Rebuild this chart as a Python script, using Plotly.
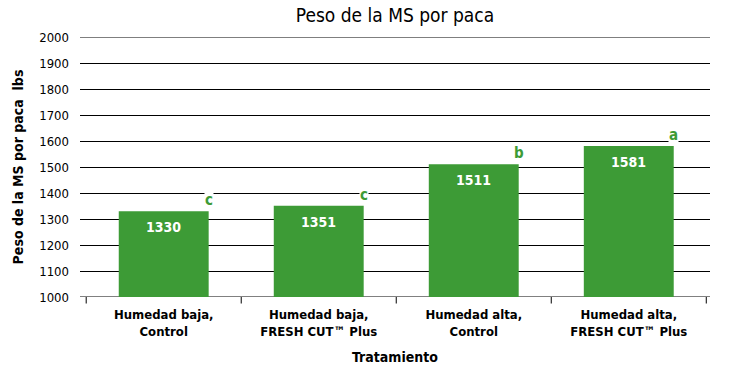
import plotly.graph_objects as go

categories = ["Humedad baja,<br>Control", "Humedad baja,<br>FRESH CUT™ Plus",
              "Humedad alta,<br>Control", "Humedad alta,<br>FRESH CUT™ Plus"]
values = [1330, 1351, 1511, 1581]
letters = ["c", "c", "b", "a"]

FONT = "Liberation Sans Narrow, DejaVu Sans Condensed, Arial Narrow, sans-serif"
GREEN = "#3d9b36"

fig = go.Figure()
fig.add_trace(go.Bar(x=list(range(len(categories))), y=values, marker_color=GREEN,
                     marker_line_width=0, width=0.58, showlegend=False, hoverinfo="skip"))

for i, (v, l) in enumerate(zip(values, letters)):
    fig.add_annotation(x=i, y=v, text=f"<b>{v}</b>", showarrow=False, yanchor="middle",
                       yshift=-16, font=dict(color="white", size=14, family=FONT))
    fig.add_annotation(x=i + 0.29, y=v, text=f"<b>{l}</b>", showarrow=False, yanchor="bottom",
                       xanchor="center", yshift=1, bgcolor="white", borderpad=0,
                       font=dict(color=GREEN, size=15, family=FONT))

# category boundary ticks
for b in [-0.5, 0.5, 1.5, 2.5, 3.5]:
    fig.add_shape(type="line", xref="x", yref="paper", x0=b, x1=b, y0=0, y1=-0.025,
                  line=dict(color="black", width=1))
# edge gridlines (top and bottom of range)
for yv in [1000, 2000]:
    fig.add_shape(type="line", xref="paper", yref="y", x0=0, x1=1, y0=yv, y1=yv,
                  line=dict(color="black", width=1), layer="below")

fig.update_layout(
    width=730, height=375,
    margin=dict(l=80, r=20, t=37, b=78),
    paper_bgcolor="white", plot_bgcolor="white",
    title=dict(text="Peso de la MS por paca", xref="paper", x=0.5, xanchor="center", y=0.96, yanchor="middle",
               font=dict(size=19, family=FONT, color="black")),
    font=dict(family=FONT, color="black"),
    xaxis=dict(range=[-0.54, 3.524], tickmode="array", tickvals=list(range(4)),
               ticktext=[f"<b>{c}</b>" for c in categories], ticks="", showgrid=False,
               zeroline=False, tickfont=dict(size=13, family=FONT), automargin=False,
               ticklabelstandoff=8,
               title=dict(text="<b>Tratamiento</b>", font=dict(size=14, family=FONT), standoff=14)),
    yaxis=dict(range=[1000, 2000], dtick=100, showgrid=True, gridcolor="black", gridwidth=1,
               zeroline=False, ticks="", tickfont=dict(size=13, family=FONT), ticklabelstandoff=10,
               automargin=False,
               title=dict(text="<b>Peso de la MS por paca  lbs</b>", font=dict(size=14, family=FONT), standoff=12)),
)
fig.write_html("out.html", config={"displayModeBar": False},
               post_script="document.body.style.margin='0';")
